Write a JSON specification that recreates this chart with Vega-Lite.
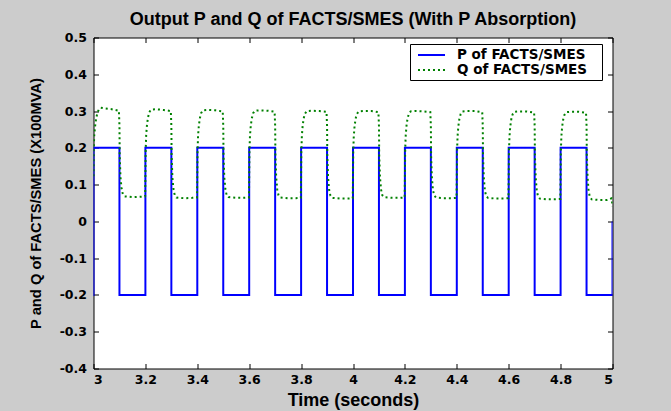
{
  "$schema": "https://vega.github.io/schema/vega-lite/v6.json",
  "width": 519,
  "height": 331,
  "autosize": {"type": "none"},
  "padding": {"left": 93.5, "top": 37.5, "right": 58.5, "bottom": 42.5},
  "background": "#cccccc",
  "title": {
    "text": "Output P and Q of FACTS/SMES (With P Absorption)",
    "font": "Liberation Sans",
    "fontSize": 18,
    "fontWeight": "bold",
    "color": "#000000",
    "anchor": "middle",
    "offset": 3
  },
  "config": {
    "view": {"fill": "#ffffff", "stroke": "#000000", "strokeWidth": 1},
    "axis": {
      "domain": false,
      "grid": false,
      "tickColor": "#000000",
      "tickSize": -5,
      "tickWidth": 1,
      "labelFont": "DejaVu Sans",
      "labelFontWeight": "bold",
      "labelFontSize": 12.5,
      "labelColor": "#000000",
      "titleFont": "Liberation Sans",
      "titleFontWeight": "bold",
      "titleColor": "#000000"
    },
    "legend": {
      "orient": "none",
      "legendX": 316.5,
      "legendY": 6.5,
      "strokeColor": "#000000",
      "fillColor": "#ffffff",
      "padding": 3,
      "symbolType": "M-0.43,0H3.43",
      "symbolSize": 196,
      "symbolStrokeWidth": 2,
      "labelOffset": 28,
      "labelFont": "DejaVu Sans",
      "labelFontWeight": "bold",
      "labelFontSize": 13.5,
      "labelColor": "#000000",
      "rowPadding": 0,
      "titleOrient": "right",
      "titlePadding": 12,
      "titleFontSize": 8
    }
  },
  "datasets": {
    "p": [
      {"t": 2.9, "v": -0.2}, {"t": 3.0, "v": 0.2}, {"t": 3.1, "v": -0.2}, {"t": 3.2, "v": 0.2},
      {"t": 3.3, "v": -0.2}, {"t": 3.4, "v": 0.2}, {"t": 3.5, "v": -0.2}, {"t": 3.6, "v": 0.2},
      {"t": 3.7, "v": -0.2}, {"t": 3.8, "v": 0.2}, {"t": 3.9, "v": -0.2}, {"t": 4.0, "v": 0.2},
      {"t": 4.1, "v": -0.2}, {"t": 4.2, "v": 0.2}, {"t": 4.3, "v": -0.2}, {"t": 4.4, "v": 0.2},
      {"t": 4.5, "v": -0.2}, {"t": 4.6, "v": 0.2}, {"t": 4.7, "v": -0.2}, {"t": 4.8, "v": 0.2},
      {"t": 4.9, "v": -0.2}, {"t": 5.0, "v": 0.0}
    ],
    "q": [
      {"t": 2.95, "v": 0.065},
      {"t": 3.000, "v": 0.12}, {"t": 3.001, "v": 0.2}, {"t": 3.003, "v": 0.235}, {"t": 3.006, "v": 0.258},
      {"t": 3.010, "v": 0.279}, {"t": 3.015, "v": 0.295}, {"t": 3.021, "v": 0.305}, {"t": 3.028, "v": 0.309},
      {"t": 3.045, "v": 0.307}, {"t": 3.070, "v": 0.305}, {"t": 3.098, "v": 0.301}, {"t": 3.100, "v": 0.26},
      {"t": 3.101, "v": 0.18}, {"t": 3.104, "v": 0.12}, {"t": 3.108, "v": 0.09}, {"t": 3.113, "v": 0.074},
      {"t": 3.120, "v": 0.068}, {"t": 3.150, "v": 0.066}, {"t": 3.180, "v": 0.067}, {"t": 3.199, "v": 0.068},

      {"t": 3.200, "v": 0.12}, {"t": 3.201, "v": 0.19}, {"t": 3.203, "v": 0.235}, {"t": 3.206, "v": 0.262},
      {"t": 3.210, "v": 0.282}, {"t": 3.215, "v": 0.297}, {"t": 3.222, "v": 0.304}, {"t": 3.240, "v": 0.305},
      {"t": 3.270, "v": 0.303}, {"t": 3.298, "v": 0.300}, {"t": 3.300, "v": 0.26}, {"t": 3.301, "v": 0.18},
      {"t": 3.304, "v": 0.12}, {"t": 3.308, "v": 0.088}, {"t": 3.313, "v": 0.072}, {"t": 3.320, "v": 0.065},
      {"t": 3.350, "v": 0.063}, {"t": 3.380, "v": 0.064}, {"t": 3.399, "v": 0.065},

      {"t": 3.400, "v": 0.12}, {"t": 3.401, "v": 0.19}, {"t": 3.403, "v": 0.234}, {"t": 3.406, "v": 0.261},
      {"t": 3.410, "v": 0.281}, {"t": 3.415, "v": 0.295}, {"t": 3.422, "v": 0.302}, {"t": 3.440, "v": 0.303},
      {"t": 3.470, "v": 0.302}, {"t": 3.498, "v": 0.299}, {"t": 3.500, "v": 0.26}, {"t": 3.501, "v": 0.18},
      {"t": 3.504, "v": 0.12}, {"t": 3.508, "v": 0.088}, {"t": 3.513, "v": 0.072}, {"t": 3.520, "v": 0.066},
      {"t": 3.550, "v": 0.064}, {"t": 3.580, "v": 0.064}, {"t": 3.599, "v": 0.065},

      {"t": 3.600, "v": 0.12}, {"t": 3.601, "v": 0.19}, {"t": 3.603, "v": 0.233}, {"t": 3.606, "v": 0.26},
      {"t": 3.610, "v": 0.28}, {"t": 3.615, "v": 0.294}, {"t": 3.622, "v": 0.301}, {"t": 3.640, "v": 0.302},
      {"t": 3.670, "v": 0.301}, {"t": 3.698, "v": 0.298}, {"t": 3.700, "v": 0.26}, {"t": 3.701, "v": 0.18},
      {"t": 3.704, "v": 0.12}, {"t": 3.708, "v": 0.087}, {"t": 3.713, "v": 0.071}, {"t": 3.720, "v": 0.065},
      {"t": 3.750, "v": 0.063}, {"t": 3.780, "v": 0.063}, {"t": 3.799, "v": 0.064},

      {"t": 3.800, "v": 0.12}, {"t": 3.801, "v": 0.19}, {"t": 3.803, "v": 0.233}, {"t": 3.806, "v": 0.26},
      {"t": 3.810, "v": 0.28}, {"t": 3.815, "v": 0.293}, {"t": 3.822, "v": 0.3}, {"t": 3.840, "v": 0.301},
      {"t": 3.870, "v": 0.3}, {"t": 3.898, "v": 0.298}, {"t": 3.900, "v": 0.26}, {"t": 3.901, "v": 0.18},
      {"t": 3.904, "v": 0.12}, {"t": 3.908, "v": 0.086}, {"t": 3.913, "v": 0.07}, {"t": 3.920, "v": 0.064},
      {"t": 3.950, "v": 0.062}, {"t": 3.980, "v": 0.062}, {"t": 3.999, "v": 0.063},

      {"t": 4.000, "v": 0.12}, {"t": 4.001, "v": 0.19}, {"t": 4.003, "v": 0.232}, {"t": 4.006, "v": 0.259},
      {"t": 4.010, "v": 0.279}, {"t": 4.015, "v": 0.292}, {"t": 4.022, "v": 0.299}, {"t": 4.040, "v": 0.3},
      {"t": 4.070, "v": 0.3}, {"t": 4.098, "v": 0.297}, {"t": 4.100, "v": 0.26}, {"t": 4.101, "v": 0.18},
      {"t": 4.104, "v": 0.12}, {"t": 4.108, "v": 0.087}, {"t": 4.113, "v": 0.071}, {"t": 4.120, "v": 0.066},
      {"t": 4.150, "v": 0.064}, {"t": 4.180, "v": 0.064}, {"t": 4.199, "v": 0.065},

      {"t": 4.200, "v": 0.12}, {"t": 4.201, "v": 0.19}, {"t": 4.203, "v": 0.232}, {"t": 4.206, "v": 0.259},
      {"t": 4.210, "v": 0.279}, {"t": 4.215, "v": 0.292}, {"t": 4.222, "v": 0.299}, {"t": 4.240, "v": 0.3},
      {"t": 4.270, "v": 0.299}, {"t": 4.298, "v": 0.297}, {"t": 4.300, "v": 0.26}, {"t": 4.301, "v": 0.18},
      {"t": 4.304, "v": 0.12}, {"t": 4.308, "v": 0.086}, {"t": 4.313, "v": 0.07}, {"t": 4.320, "v": 0.065},
      {"t": 4.350, "v": 0.063}, {"t": 4.380, "v": 0.063}, {"t": 4.399, "v": 0.064},

      {"t": 4.400, "v": 0.12}, {"t": 4.401, "v": 0.19}, {"t": 4.403, "v": 0.232}, {"t": 4.406, "v": 0.259},
      {"t": 4.410, "v": 0.279}, {"t": 4.415, "v": 0.292}, {"t": 4.422, "v": 0.299}, {"t": 4.440, "v": 0.3},
      {"t": 4.470, "v": 0.3}, {"t": 4.498, "v": 0.297}, {"t": 4.500, "v": 0.26}, {"t": 4.501, "v": 0.18},
      {"t": 4.504, "v": 0.12}, {"t": 4.508, "v": 0.085}, {"t": 4.513, "v": 0.069}, {"t": 4.520, "v": 0.064},
      {"t": 4.550, "v": 0.062}, {"t": 4.580, "v": 0.062}, {"t": 4.599, "v": 0.063},

      {"t": 4.600, "v": 0.12}, {"t": 4.601, "v": 0.19}, {"t": 4.603, "v": 0.231}, {"t": 4.606, "v": 0.258},
      {"t": 4.610, "v": 0.278}, {"t": 4.615, "v": 0.291}, {"t": 4.622, "v": 0.298}, {"t": 4.640, "v": 0.299},
      {"t": 4.670, "v": 0.299}, {"t": 4.698, "v": 0.296}, {"t": 4.700, "v": 0.26}, {"t": 4.701, "v": 0.18},
      {"t": 4.704, "v": 0.12}, {"t": 4.708, "v": 0.084}, {"t": 4.713, "v": 0.068}, {"t": 4.720, "v": 0.062},
      {"t": 4.750, "v": 0.06}, {"t": 4.780, "v": 0.06}, {"t": 4.799, "v": 0.061},

      {"t": 4.800, "v": 0.12}, {"t": 4.801, "v": 0.19}, {"t": 4.803, "v": 0.231}, {"t": 4.806, "v": 0.258},
      {"t": 4.810, "v": 0.277}, {"t": 4.815, "v": 0.29}, {"t": 4.822, "v": 0.297}, {"t": 4.840, "v": 0.298},
      {"t": 4.870, "v": 0.298}, {"t": 4.898, "v": 0.295}, {"t": 4.900, "v": 0.26}, {"t": 4.901, "v": 0.18},
      {"t": 4.904, "v": 0.12}, {"t": 4.908, "v": 0.082}, {"t": 4.913, "v": 0.066}, {"t": 4.920, "v": 0.06},
      {"t": 4.950, "v": 0.058}, {"t": 4.980, "v": 0.058}, {"t": 4.997, "v": 0.063}, {"t": 5.000, "v": 0.04}
    ]
  },
  "layer": [
    {
      "data": {"name": "p"},
      "mark": {"type": "line", "interpolate": "step-after", "strokeWidth": 2, "clip": true},
      "encoding": {
        "x": {
          "field": "t", "type": "quantitative",
          "scale": {"domain": [3, 5], "nice": false, "zero": false},
          "axis": {
            "orient": "bottom",
            "values": [3, 3.2, 3.4, 3.6, 3.8, 4, 4.2, 4.4, 4.6, 4.8, 5],
            "format": "~g",
            "labelPadding": 10,
            "title": "Time (seconds)",
            "titleFontSize": 18,
            "titlePadding": 5
          }
        },
        "y": {
          "field": "v", "type": "quantitative",
          "scale": {"domain": [-0.4, 0.5], "nice": false, "zero": false},
          "axis": {
            "orient": "left",
            "values": [-0.4, -0.3, -0.2, -0.1, 0, 0.1, 0.2, 0.3, 0.4, 0.5],
            "labelExpr": "replace(format(datum.value, '~g'), '\u2212', '-')",
            "labelPadding": 12,
            "title": "P and Q of FACTS/SMES (X100MVA)",
            "titleFontSize": 14.7,
            "titlePadding": 16
          }
        },
        "color": {
          "datum": "P of FACTS/SMES",
          "type": "nominal",
          "scale": {"domain": ["P of FACTS/SMES", "Q of FACTS/SMES"], "range": ["#0000ff", "#008000"]},
          "legend": {"title": "\u00a0"}
        },
        "strokeDash": {
          "datum": "P of FACTS/SMES",
          "type": "nominal",
          "scale": {"domain": ["P of FACTS/SMES", "Q of FACTS/SMES"], "range": [[1, 0], [2, 3]]},
          "legend": {"title": "\u00a0"}
        }
      }
    },
    {
      "data": {"name": "q"},
      "mark": {"type": "line", "strokeWidth": 2, "clip": true},
      "encoding": {
        "x": {
          "field": "t", "type": "quantitative",
          "axis": {
            "orient": "top",
            "values": [3, 3.2, 3.4, 3.6, 3.8, 4, 4.2, 4.4, 4.6, 4.8, 5],
            "labels": false,
            "title": null
          }
        },
        "y": {
          "field": "v", "type": "quantitative",
          "axis": {
            "orient": "right",
            "values": [-0.4, -0.3, -0.2, -0.1, 0, 0.1, 0.2, 0.3, 0.4, 0.5],
            "labels": false,
            "title": null
          }
        },
        "color": {"datum": "Q of FACTS/SMES", "type": "nominal"},
        "strokeDash": {"datum": "Q of FACTS/SMES", "type": "nominal"}
      }
    }
  ],
  "resolve": {"axis": {"x": "independent", "y": "independent"}}
}
